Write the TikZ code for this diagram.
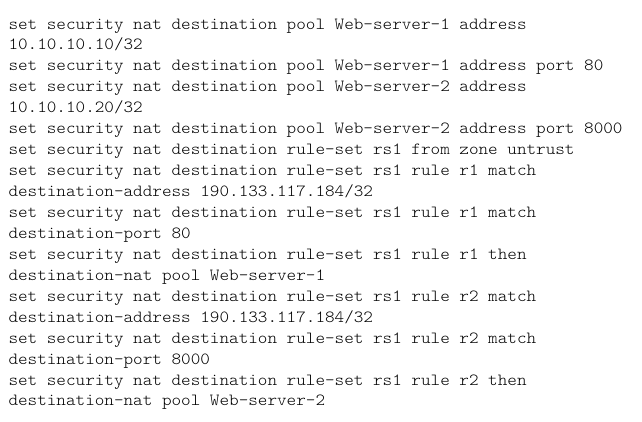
\documentclass[tikz,border=0pt]{standalone}
\usepackage{fontspec}
\setmonofont{lmmonolt10-regular.otf}[FakeStretch=1.075]
\begin{document}
\begin{tikzpicture}[x=1bp,y=-1bp,
  codeline/.style={anchor=base west,inner sep=0pt,outer sep=0pt,text=black,
    font=\fontsize{17bp}{21bp}\selectfont\ttfamily}]
\useasboundingbox (0,0) rectangle (642,421);
\node[codeline] (l1)  at (8.5,29.0)  {set security nat destination pool Web-server-1 address};
\node[codeline] (l2)  at (8.5,49.9)  {10.10.10.10/32};
\node[codeline] (l3)  at (8.5,70.9)  {set security nat destination pool Web-server-1 address port 80};
\node[codeline] (l4)  at (8.5,91.8)  {set security nat destination pool Web-server-2 address};
\node[codeline] (l5)  at (8.5,112.8) {10.10.10.20/32};
\node[codeline] (l6)  at (8.5,133.7) {set security nat destination pool Web-server-2 address port 8000};
\node[codeline] (l7)  at (8.5,154.6) {set security nat destination rule-set rs1 from zone untrust};
\node[codeline] (l8)  at (8.5,175.6) {set security nat destination rule-set rs1 rule r1 match};
\node[codeline] (l9)  at (8.5,196.5) {destination-address 190.133.117.184/32};
\node[codeline] (l10) at (8.5,217.5) {set security nat destination rule-set rs1 rule r1 match};
\node[codeline] (l11) at (8.5,238.4) {destination-port 80};
\node[codeline] (l12) at (8.5,259.3) {set security nat destination rule-set rs1 rule r1 then};
\node[codeline] (l13) at (8.5,280.3) {destination-nat pool Web-server-1};
\node[codeline] (l14) at (8.5,301.2) {set security nat destination rule-set rs1 rule r2 match};
\node[codeline] (l15) at (8.5,322.2) {destination-address 190.133.117.184/32};
\node[codeline] (l16) at (8.5,343.1) {set security nat destination rule-set rs1 rule r2 match};
\node[codeline] (l17) at (8.5,364.0) {destination-port 8000};
\node[codeline] (l18) at (8.5,385.0) {set security nat destination rule-set rs1 rule r2 then};
\node[codeline] (l19) at (8.5,405.9) {destination-nat pool Web-server-2};
\end{tikzpicture}
\end{document}
